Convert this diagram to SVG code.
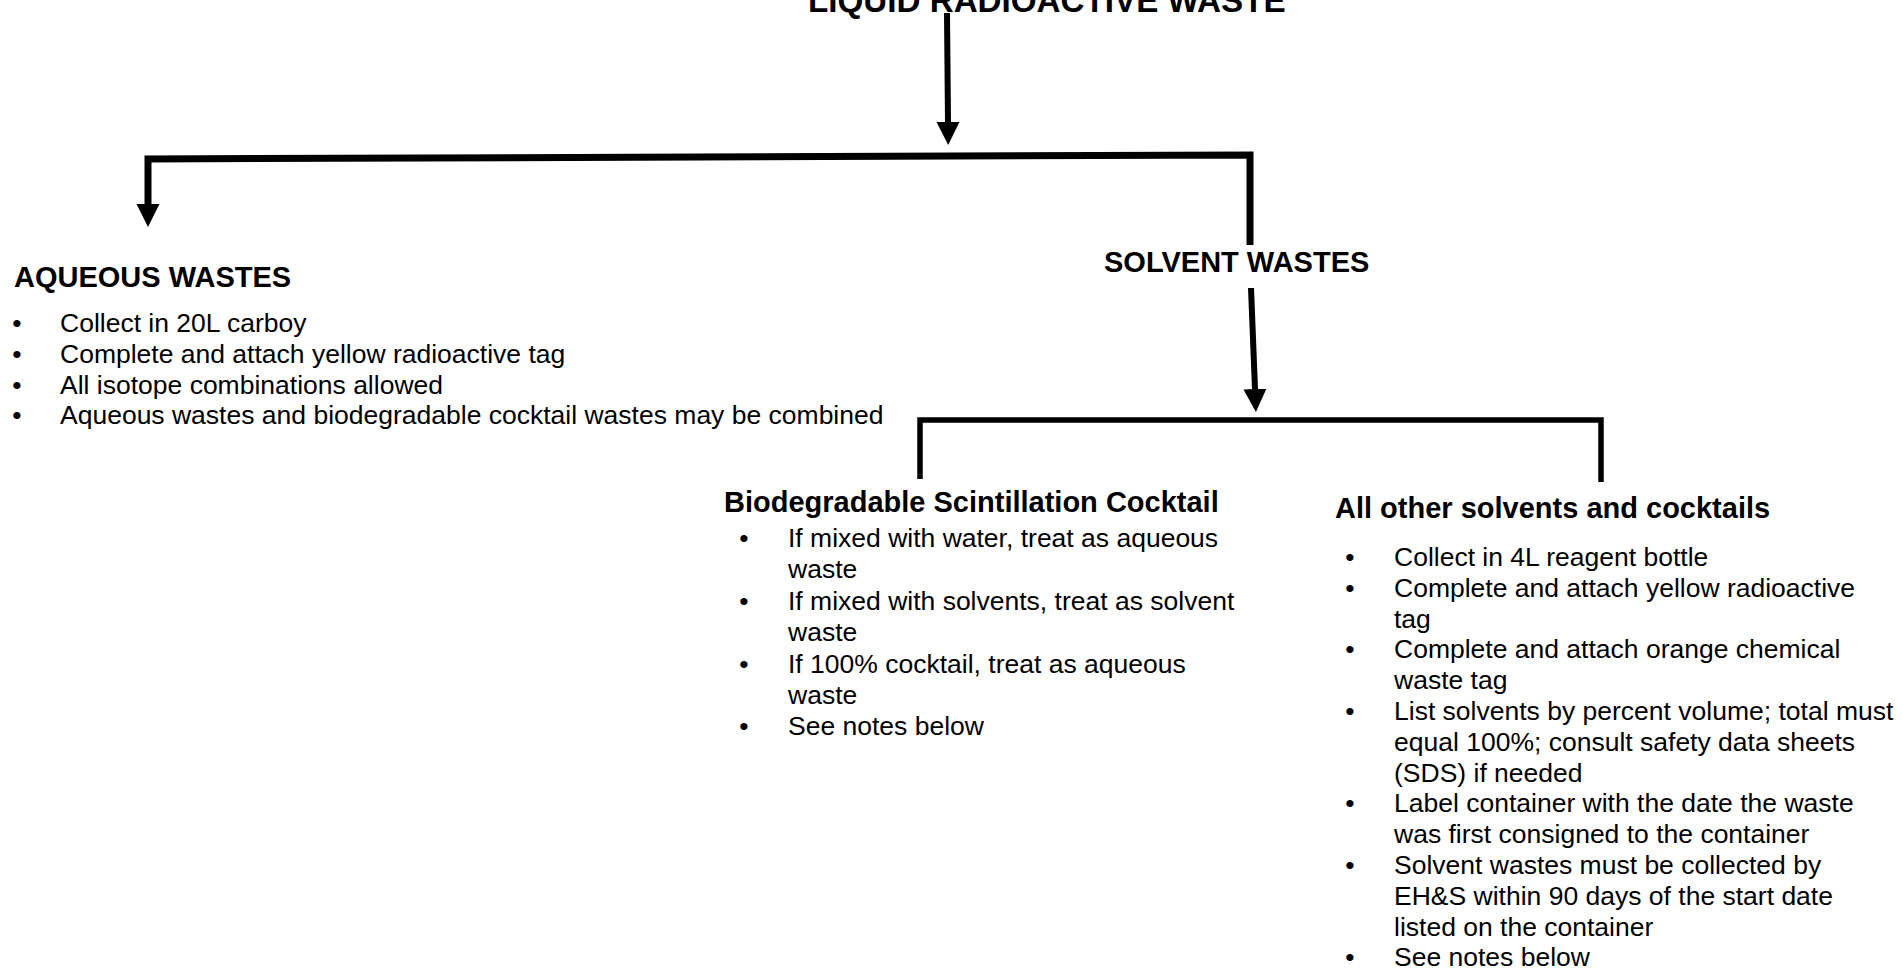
<svg xmlns="http://www.w3.org/2000/svg" width="1902" height="976" viewBox="0 0 1902 976">
<style>
text{font-family:"Liberation Sans",Arial,sans-serif;fill:#000}
.title{font-size:33.2px;font-weight:bold}
.h{font-size:29px;font-weight:bold}
.b{font-size:26.5px}
.dot{font-size:26.5px;text-anchor:middle}
.con{fill:none;stroke:#000;stroke-linejoin:miter;stroke-linecap:butt}
</style>
<defs>
<marker id="ah" viewBox="0 0 24 24" refX="0" refY="12" markerWidth="24" markerHeight="24" markerUnits="userSpaceOnUse" orient="auto">
<path d="M0,0.5 L23,12 L0,23.5 Z" fill="#000"/>
</marker>
</defs>
<rect width="1902" height="976" fill="#fff"/>
<g id="title"><text class="title" x="808" y="12">LIQUID RADIOACTIVE WASTE</text></g>
<g id="connectors">
<path class="con" stroke-width="6" d="M947,13 L948,122" marker-end="url(#ah)"/>
<path class="con" stroke-width="7" d="M1250,245 L1250,155 L148,159 L148,204" marker-end="url(#ah)"/>
<path class="con" stroke-width="6" d="M1251,288 L1255,389" marker-end="url(#ah)"/>
<path class="con" stroke-width="5.5" d="M920,479 L920,420 L1601,420 L1601,482"/>
</g>
<g id="aqueous">
<text class="h" x="14" y="287">AQUEOUS WASTES</text>
<text class="dot" x="17" y="332">•</text><text class="b" x="60" y="332">Collect in 20L carboy</text>
<text class="dot" x="17" y="363">•</text><text class="b" x="60" y="363">Complete and attach yellow radioactive tag</text>
<text class="dot" x="17" y="394">•</text><text class="b" x="60" y="394">All isotope combinations allowed</text>
<text class="dot" x="17" y="424">•</text><text class="b" x="60" y="424">Aqueous wastes and biodegradable cocktail wastes may be combined</text>
</g>
<g id="solvent">
<text class="h" x="1104" y="272">SOLVENT WASTES</text>
</g>
<g id="biodegradable">
<text class="h" x="724" y="512">Biodegradable Scintillation Cocktail</text>
<text class="dot" x="744" y="547">•</text><text class="b" x="788" y="547">If mixed with water, treat as aqueous</text>
<text class="b" x="788" y="578">waste</text>
<text class="dot" x="744" y="610">•</text><text class="b" x="788" y="610">If mixed with solvents, treat as solvent</text>
<text class="b" x="788" y="641">waste</text>
<text class="dot" x="744" y="673">•</text><text class="b" x="788" y="673">If 100% cocktail, treat as aqueous</text>
<text class="b" x="788" y="704">waste</text>
<text class="dot" x="744" y="735">•</text><text class="b" x="788" y="735">See notes below</text>
</g>
<g id="other">
<text class="h" x="1335" y="518">All other solvents and cocktails</text>
<text class="dot" x="1350" y="566">•</text><text class="b" x="1394" y="566">Collect in 4L reagent bottle</text>
<text class="dot" x="1350" y="597">•</text><text class="b" x="1394" y="597">Complete and attach yellow radioactive</text>
<text class="b" x="1394" y="628">tag</text>
<text class="dot" x="1350" y="658">•</text><text class="b" x="1394" y="658">Complete and attach orange chemical</text>
<text class="b" x="1394" y="689">waste tag</text>
<text class="dot" x="1350" y="720">•</text><text class="b" x="1394" y="720">List solvents by percent volume; total must</text>
<text class="b" x="1394" y="751">equal 100%; consult safety data sheets</text>
<text class="b" x="1394" y="782">(SDS) if needed</text>
<text class="dot" x="1350" y="812">•</text><text class="b" x="1394" y="812">Label container with the date the waste</text>
<text class="b" x="1394" y="843">was first consigned to the container</text>
<text class="dot" x="1350" y="874">•</text><text class="b" x="1394" y="874">Solvent wastes must be collected by</text>
<text class="b" x="1394" y="905">EH&amp;S within 90 days of the start date</text>
<text class="b" x="1394" y="936">listed on the container</text>
<text class="dot" x="1350" y="966">•</text><text class="b" x="1394" y="966">See notes below</text>
</g>
</svg>
